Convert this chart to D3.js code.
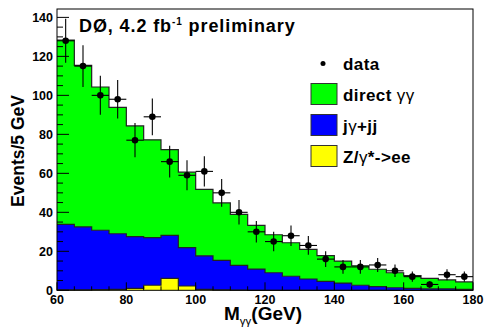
<!DOCTYPE html>
<html>
<head>
<meta charset="utf-8" />
<title>D0 diphoton mass</title>
<style>
body { margin: 0; background: white; }
text { font-family: "Liberation Sans", Arial, sans-serif; font-weight: bold; }
</style>
<script src="https://d3js.org/d3.v7.min.js"></script>
</head>
<body>
<script>
var width = 484;
var height = 333;

// bin low edges, 5 GeV wide
var binEdges = [60,65,70,75,80,85,90,95,100,105,110,115,120,125,130,135,140,145,150,155,160,165,170,175];
var binWidth = 5;

// stacked components (bottom to top)
var zee = [0.2,0.2,0.3,0.5,1.0,2.6,6.1,2.2,0.5,0.2,0.1,0,0,0,0,0,0,0,0,0,0,0,0,0];
var jetBkg = [33.6,32.3,30.5,28.5,26.5,24.4,22.1,19.7,17.2,15.2,12.7,10.9,9.0,7.2,5.8,4.6,3.7,2.6,1.9,1.3,1.0,0.7,0.7,0.5];
var direct = [94.6,82.9,73.5,64.8,56.8,50.2,44.0,38.7,34.1,29.4,26.1,22.4,19.5,17.2,15.2,13.2,11.3,10.0,8.9,7.7,6.5,5.4,4.6,3.8];

// data points and errors
var dataVals = [128,115,100,98,77,89,66,59,61,50,40,30,25,28,23,16,12,12,13,10,7,3,8,7];
var dataErrs = [11.3,10.7,10,9.9,8.8,9.4,8.1,7.7,7.8,7.1,6.3,5.5,5,5.3,4.8,4,3.5,3.5,3.6,3.2,2.6,1.7,2.8,2.6];

var xTicks = [60,80,100,120,140,160,180];
var yTicks = [0,20,40,60,80,100,120,140];

// plot frame in pixels
var padL = 57, padR = 473, padT = 9, padB = 290.3;

var svg = d3.select("body").append("svg")
  .attr("width", width)
  .attr("height", height);

var x = d3.scaleLinear().domain([60,180]).range([padL,padR]);
var y = d3.scaleLinear().domain([0,144.3]).range([padB,padT]);

// stack layers
var layers = [
  { vals: zee, color: "#ffff00" },
  { vals: jetBkg, color: "#0000ff" },
  { vals: direct, color: "#00ff00" }
];
var base = binEdges.map(function(){ return 0; });
var stacked = layers.map(function(l){
  var lo = base.slice();
  var hi = base.map(function(b,i){ return b + l.vals[i]; });
  base = hi;
  return { lo: lo, hi: hi, color: l.color };
});

function stepPts(lo, hi) {
  var pts = binEdges.map(function(e,i){ return { e: e, lo: lo[i], hi: hi[i] }; });
  var n = pts.length - 1;
  pts.push({ e: binEdges[n] + binWidth, lo: lo[n], hi: hi[n] });
  return pts;
}

var area = d3.area()
  .curve(d3.curveStepAfter)
  .x(function(d){ return x(d.e); })
  .y0(function(d){ return y(d.lo); })
  .y1(function(d){ return y(d.hi); });

var topLine = d3.line()
  .curve(d3.curveStepAfter)
  .x(function(d){ return x(d.e); })
  .y(function(d){ return y(d.hi); });

var g = svg.append("g");
stacked.slice().reverse().forEach(function(s){
  g.append("path").attr("d", area(stepPts(s.lo, s.hi))).attr("fill", s.color);
});
stacked.forEach(function(s){
  g.append("path").attr("d", topLine(stepPts(s.lo, s.hi)))
    .attr("fill", "none").attr("stroke", "#222").attr("stroke-width", 1.2);
});

// data with error bars
var dg = svg.append("g");
dataVals.forEach(function(v,i){
  var cx = x(binEdges[i] + binWidth/2);
  dg.append("line")
    .attr("x1", x(binEdges[i])).attr("x2", x(binEdges[i] + binWidth))
    .attr("y1", y(v)).attr("y2", y(v))
    .attr("stroke", "black").attr("stroke-width", 1.1);
  dg.append("line")
    .attr("x1", cx).attr("x2", cx)
    .attr("y1", y(v - dataErrs[i])).attr("y2", y(v + dataErrs[i]))
    .attr("stroke", "black").attr("stroke-width", 1.1);
  dg.append("circle").attr("cx", cx).attr("cy", y(v)).attr("r", 3.3).attr("fill", "black");
});

// frame
svg.append("rect")
  .attr("x", padL).attr("y", padT)
  .attr("width", padR - padL).attr("height", padB - padT)
  .attr("fill", "none").attr("stroke", "black").attr("stroke-width", 1);

// ticks, pointing inward like ROOT
var ax = svg.append("g").attr("stroke", "black").attr("stroke-width", 1);
d3.range(0, 144, 5).forEach(function(t){
  var major = t % 20 === 0;
  ax.append("line").attr("x1", padL).attr("x2", padL + (major ? 12 : 6))
    .attr("y1", y(t)).attr("y2", y(t));
});
d3.range(60, 181, 5).forEach(function(t){
  var major = t % 20 === 0;
  ax.append("line").attr("x1", x(t)).attr("x2", x(t))
    .attr("y1", padB).attr("y2", padB - (major ? 8 : 4));
});

svg.append("g").selectAll("text").data(yTicks).enter().append("text")
  .attr("x", padL - 4).attr("y", function(d){ return y(d) + 4.5; })
  .attr("text-anchor", "end").attr("font-size", 12.5)
  .text(function(d){ return d; });

svg.append("g").selectAll("text").data(xTicks).enter().append("text")
  .attr("x", function(d){ return x(d); }).attr("y", 303.5)
  .attr("text-anchor", "middle").attr("font-size", 12.5)
  .text(function(d){ return d; });

// axis titles
svg.append("text")
  .attr("transform", "translate(24,151) rotate(-90)")
  .attr("text-anchor", "middle").attr("font-size", 17.5)
  .text("Events/5 GeV");

var xl = svg.append("text").attr("x", 224).attr("y", 320).attr("font-size", 19);
xl.append("tspan").text("M");
xl.append("tspan").attr("dy", 5).attr("font-size", 11.5).attr("font-weight", "normal").text("\u03b3\u03b3");
xl.append("tspan").attr("dy", -5).text("(GeV)");

// title
var tt = svg.append("text").attr("x", 79).attr("y", 32).attr("font-size", 18)
  .attr("letter-spacing", 0.9);
tt.append("tspan").text("D\u00d8, 4.2 fb");
tt.append("tspan").attr("dy", -7).attr("font-size", 10).text("-1");
tt.append("tspan").attr("dy", 7).text(" preliminary");

// legend
var legendItems = [
  { label: ["data"], kind: "dot" },
  { label: ["direct ", "\u03b3\u03b3"], kind: "box", color: "#00ff00" },
  { label: ["j", "\u03b3", "+jj"], kind: "box", color: "#0000ff" },
  { label: ["Z/", "\u03b3", "*->ee"], kind: "box", color: "#ffff00" }
];
var lg = svg.append("g");
legendItems.forEach(function(it,i){
  var cy = 62.5 + i * 31;
  if (it.kind === "dot") {
    lg.append("circle").attr("cx", 323).attr("cy", cy + 1).attr("r", 2.5).attr("fill", "black");
  } else {
    lg.append("rect").attr("x", 311).attr("y", cy - 10).attr("width", 26).attr("height", 21)
      .attr("fill", it.color).attr("stroke", "#333").attr("stroke-width", 1);
  }
  var t = lg.append("text").attr("x", 343).attr("y", cy + 7.5).attr("font-size", 17)
    .attr("letter-spacing", 0.4);
  it.label.forEach(function(s){
    var sp = t.append("tspan").text(s);
    if (s === "\u03b3" || s === "\u03b3\u03b3") sp.attr("font-weight", "normal");
  });
});
</script>
</body>
</html>
